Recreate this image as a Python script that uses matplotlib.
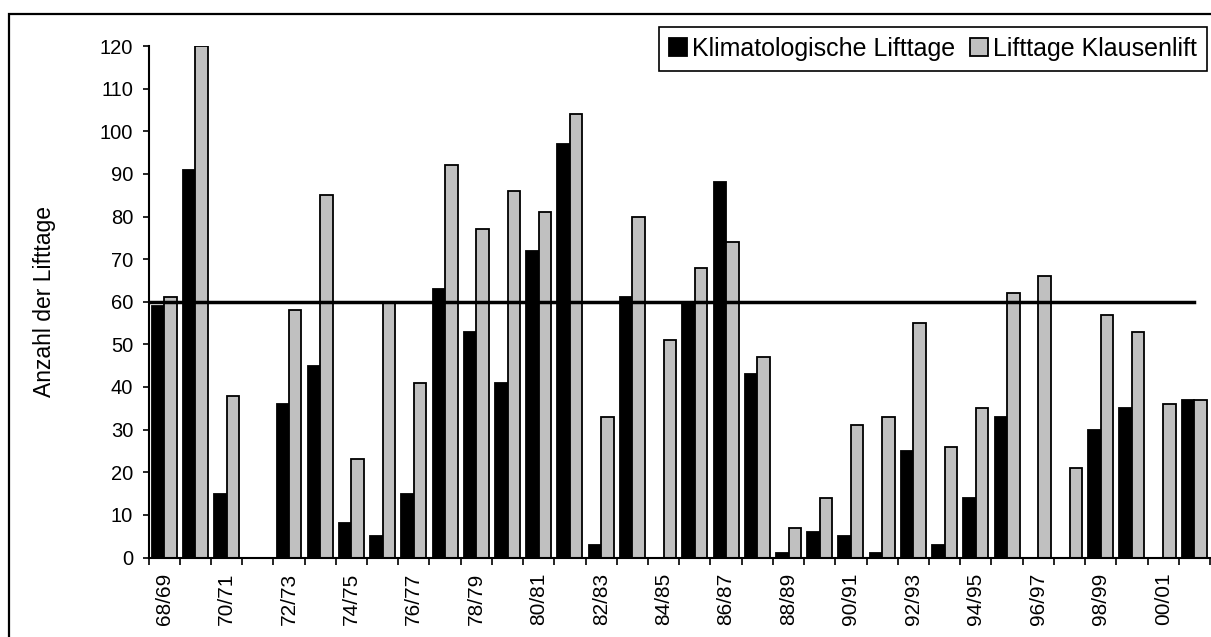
import numpy as np
import matplotlib.pyplot as plt
from matplotlib.patches import Rectangle

plt.rcParams['font.family'] = ['Liberation Sans', 'DejaVu Sans']

# Seasons 68/69 ... 01/02
seasons = ['68/69', '69/70', '70/71', '71/72', '72/73', '73/74', '74/75', '75/76',
           '76/77', '77/78', '78/79', '79/80', '80/81', '81/82', '82/83', '83/84',
           '84/85', '85/86', '86/87', '87/88', '88/89', '89/90', '90/91', '91/92',
           '92/93', '93/94', '94/95', '95/96', '96/97', '97/98', '98/99', '99/00',
           '00/01', '01/02']
klima = [59, 91, 15, 0, 36, 45, 8, 5, 15, 63, 53, 41, 72, 97, 3, 61,
         0, 60, 88, 43, 1, 6, 5, 1, 25, 3, 14, 33, 0, 0, 30, 35, 0, 37]
klausen = [61, 120, 38, 0, 58, 85, 23, 60, 41, 92, 77, 86, 81, 104, 33, 80,
           51, 68, 74, 47, 7, 14, 31, 33, 55, 26, 35, 62, 66, 21, 57, 53, 36, 37]
schwelle = 60

W, H = 1211, 637
fig = plt.figure(figsize=(W / 100, H / 100), dpi=100)
ax_bottom, ax_top = 557.5, 46
ax = fig.add_axes([148.5 / W, (H - ax_bottom) / H, (1210 - 148.5) / W, (ax_bottom - ax_top) / H])

x = np.arange(len(seasons))
bw = 0.4
h1 = ax.bar(x - bw / 2, klima, bw, color='black', edgecolor='black', linewidth=1.3)
h2 = ax.bar(x + bw / 2, klausen, bw, color='#C0C0C0', edgecolor='black', linewidth=1.3)

ax.plot([-0.5, len(seasons) - 1], [schwelle, schwelle], color='black', lw=2.5, zorder=3)

ax.set_xlim(-0.5, len(seasons) - 0.5)
ax.set_ylim(0, 120)
ax.set_yticks(np.arange(0, 121, 10))
ax.tick_params(axis='y', direction='out', length=4, width=1.2, labelsize=14.5, pad=7)

# boundary ticks, labels every other season
ax.set_xticks(np.arange(-0.5, len(seasons) + 0.5, 1))
ax.set_xticklabels([])
ax.tick_params(axis='x', which='major', direction='out', length=5, width=1.2)
ax.set_xticks(x[::2], minor=True)
ax.set_xticklabels(seasons[::2], minor=True, rotation=90, fontsize=15)
ax.tick_params(axis='x', which='minor', length=0, pad=11)

for s in ['top', 'right']:
    ax.spines[s].set_visible(False)
ax.spines['left'].set_linewidth(1.5)
ax.spines['bottom'].set_linewidth(1.5)

ax.set_ylabel('Anzahl der Lifttage', fontsize=16.5)
ax.yaxis.set_label_coords(-0.087, 0.5)

leg = ax.legend([h1, h2], ['Klimatologische Lifttage', 'Lifttage Klausenlift'],
                loc='upper right', bbox_to_anchor=(1207 / W, 1 - 27 / H),
                bbox_transform=fig.transFigure, ncol=2, fontsize=18,
                handlelength=0.72, handleheight=0.72, handletextpad=0.2,
                columnspacing=0.6, borderpad=0.4, borderaxespad=0,
                fancybox=False, framealpha=1, edgecolor='black')
leg.get_frame().set_linewidth(1.2)

# outer chart frame
fig.patches.append(Rectangle((9 / W, -0.1), 1.2, 1.1 - 14 / H, transform=fig.transFigure,
                             fill=False, edgecolor='black', linewidth=1.6))

fig.savefig('out.png', dpi=100)
